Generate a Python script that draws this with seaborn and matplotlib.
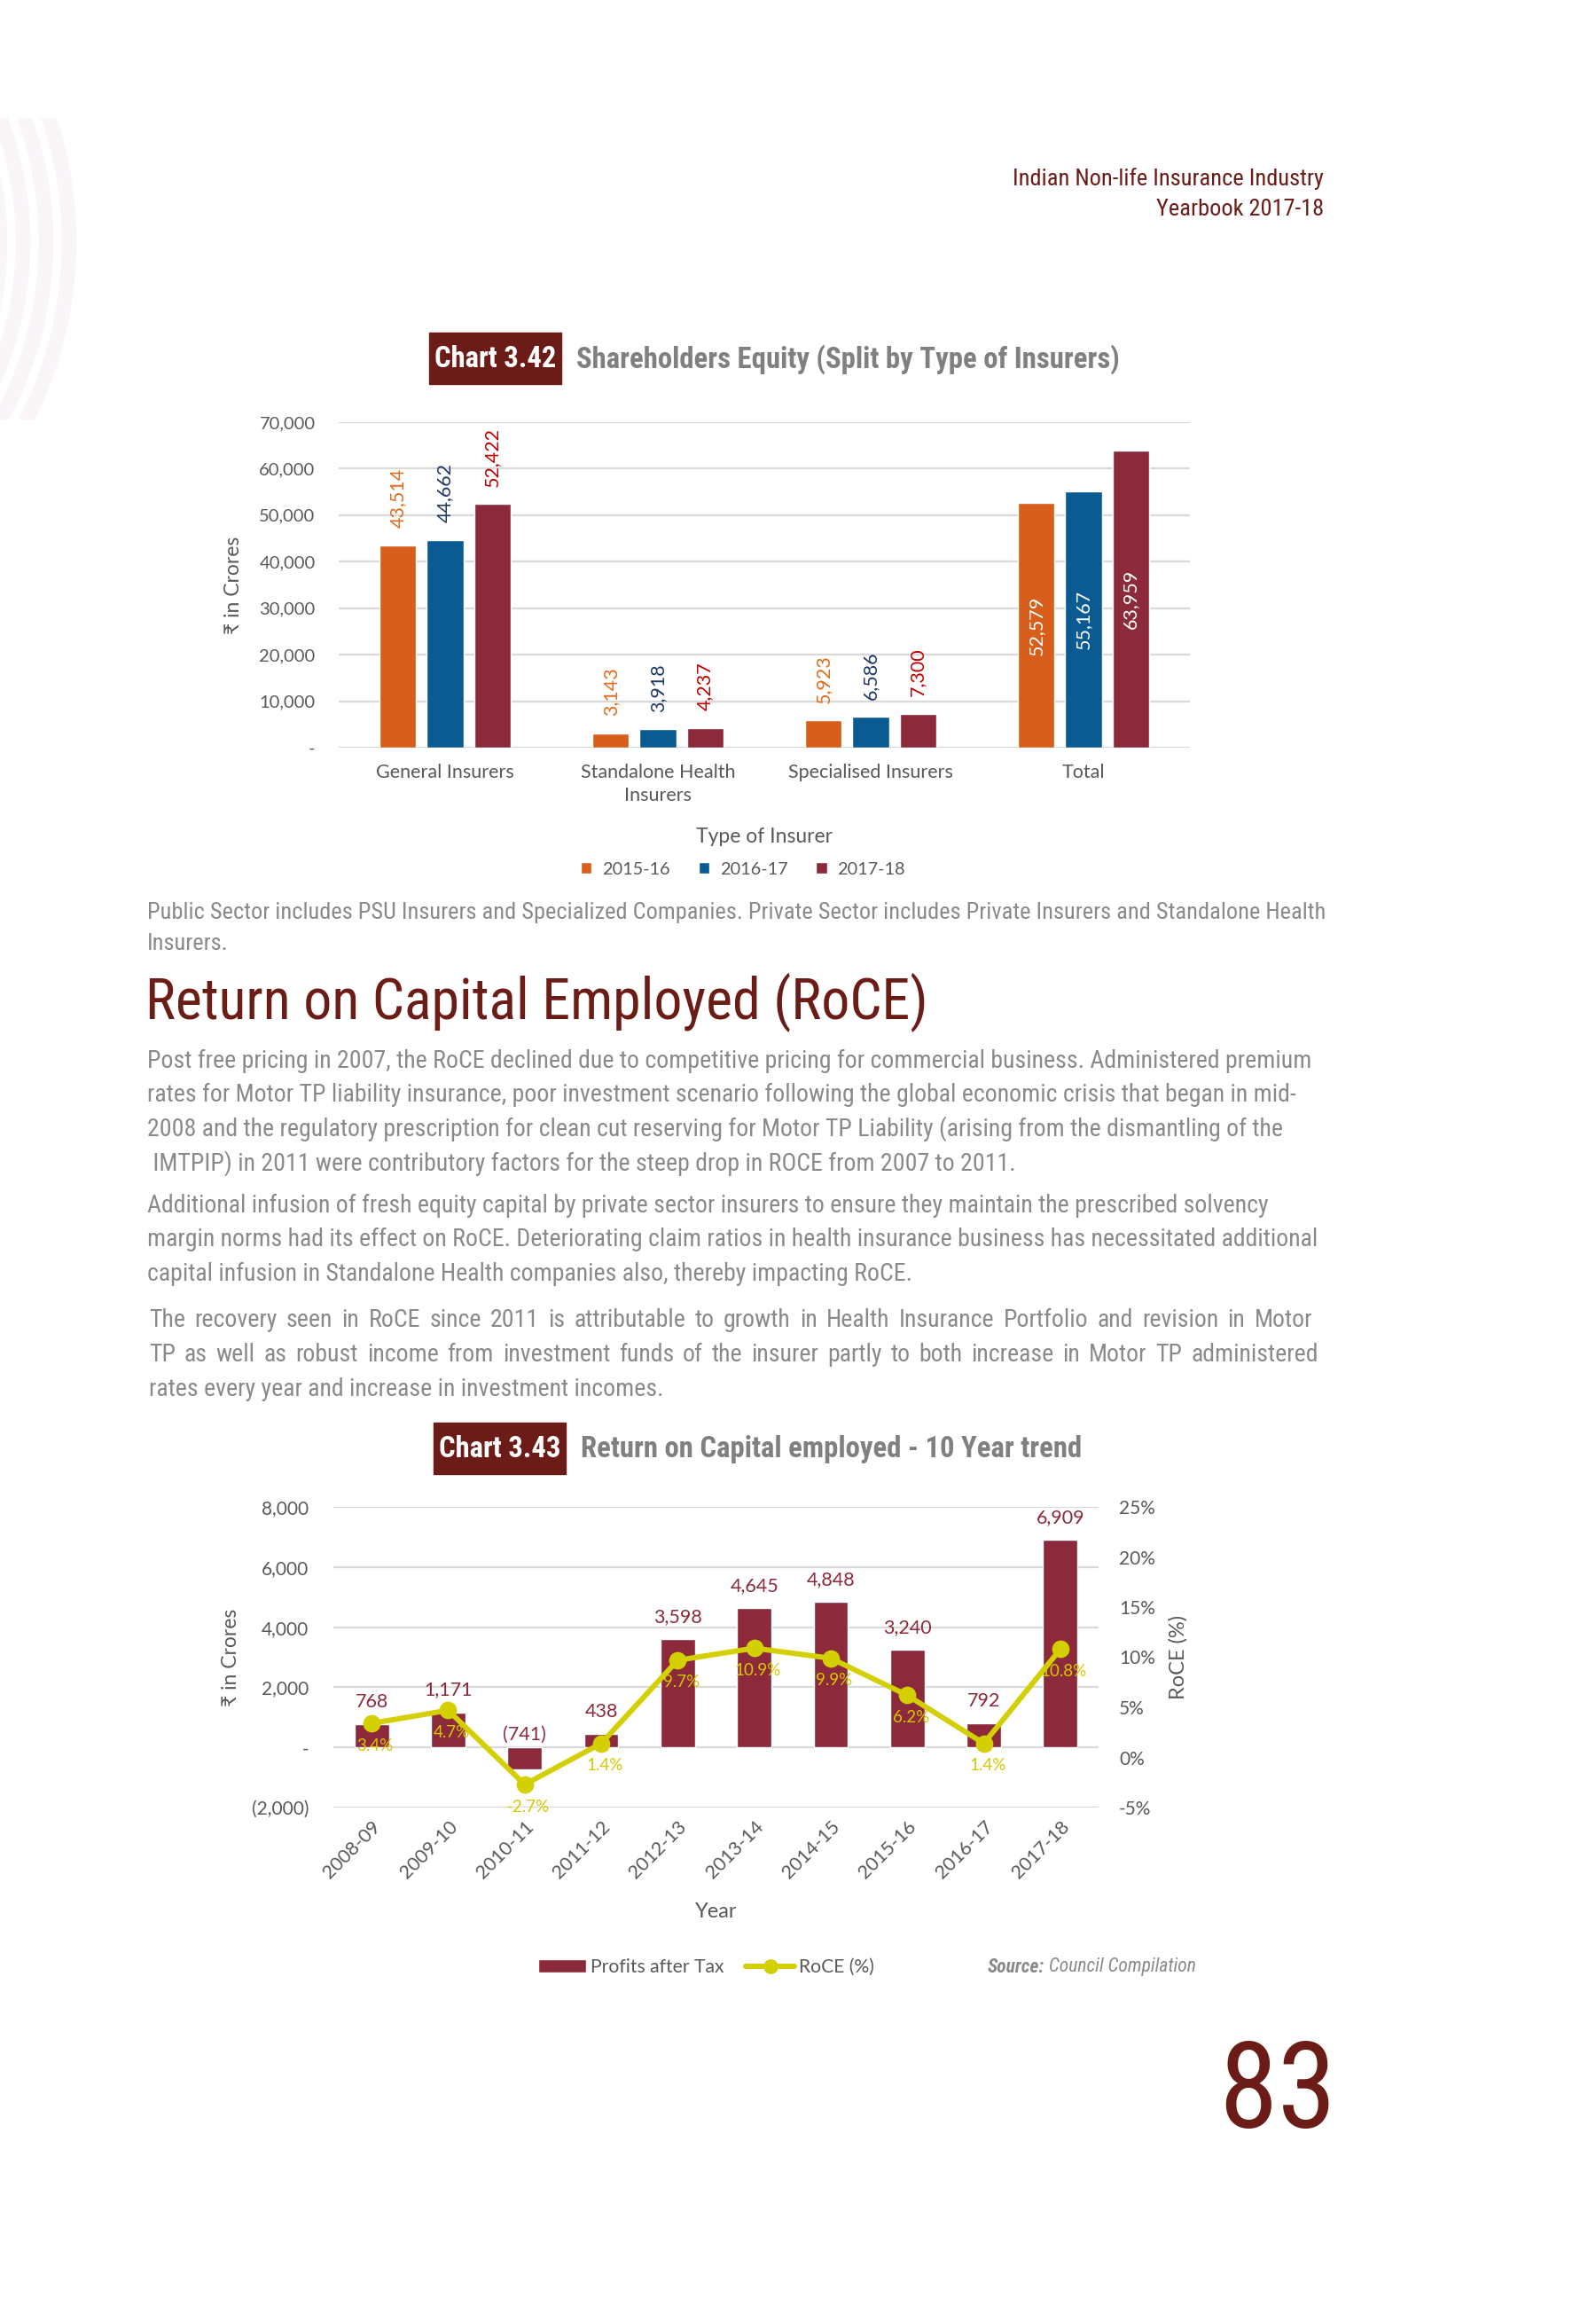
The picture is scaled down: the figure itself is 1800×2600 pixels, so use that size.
import matplotlib
matplotlib.use("Agg")
import matplotlib.pyplot as plt
from matplotlib import font_manager
from matplotlib.patches import Rectangle, Circle
from matplotlib.lines import Line2D
from matplotlib.ticker import FixedLocator, FuncFormatter
import pandas as pd
import seaborn as sns

# chart 3.42 - shareholders equity (Rs crore)
insurer_types = ["General Insurers", "Standalone Health\nInsurers", "Specialised Insurers", "Total"]
equity_years = ["2015-16", "2016-17", "2017-18"]
equity_2015_16 = [43514, 3143, 5923, 52579]
equity_2016_17 = [44662, 3918, 6586, 55167]
equity_2017_18 = [52422, 4237, 7300, 63959]
equity_ticks = [0, 10000, 20000, 30000, 40000, 50000, 60000, 70000]

# chart 3.43 - RoCE 10 year trend
roce_years = ["2008-09", "2009-10", "2010-11", "2011-12", "2012-13",
              "2013-14", "2014-15", "2015-16", "2016-17", "2017-18"]
profit_after_tax = [768, 1171, -741, 438, 3598, 4645, 4848, 3240, 792, 6909]
roce_pct = [3.4, 4.7, -2.7, 1.4, 9.7, 10.9, 9.9, 6.2, 1.4, 10.8]
profit_ticks = [-2000, 0, 2000, 4000, 6000, 8000]
roce_ticks = [-5, 0, 5, 10, 15, 20, 25]

header_lines = ["Indian Non-life Insurance Industry", "Yearbook 2017-18"]
note_lines = [
    "Public Sector includes PSU Insurers and Specialized Companies. Private Sector includes Private Insurers and Standalone Health",
    "Insurers.",
]
heading = "Return on Capital Employed (RoCE)"
para1 = [
    "Post free pricing in 2007, the RoCE declined due to competitive pricing for commercial business. Administered premium",
    "rates for Motor TP liability insurance, poor investment scenario following the global economic crisis that began in mid-",
    "2008 and the regulatory prescription for clean cut reserving for Motor TP Liability (arising from the dismantling of the",
    " IMTPIP) in 2011 were contributory factors for the steep drop in ROCE from 2007 to 2011.",
]
para2 = [
    "Additional infusion of fresh equity capital by private sector insurers to ensure they maintain the prescribed solvency",
    "margin norms had its effect on RoCE. Deteriorating claim ratios in health insurance business has necessitated additional",
    "capital infusion in Standalone Health companies also, thereby impacting RoCE.",
]
para3 = [
    "The recovery seen in RoCE since 2011 is attributable to growth in Health Insurance Portfolio and revision in Motor",
    "TP as well as robust income from investment funds of the insurer partly to both increase in Motor TP administered",
    "rates every year and increase in investment incomes.",
]

# fonts
names = {f.name for f in font_manager.fontManager.ttflist}
NARROW = next((n for n in ["Liberation Sans Narrow", "Roboto Condensed", "Open Sans Condensed"] if n in names),
              "Liberation Sans")
CHART = ["Lato", "DejaVu Sans"]

sns.set_theme(style="white")
plt.rcParams["font.family"] = CHART

# colours
DARK = "#6B1C16"
ORANGE = "#D75F1B"
BLUE = "#0A5B93"
MAROON = "#8C2A3B"
YELLOW = "#D3CF00"
GRID = "#D9D9D9"
TXT = "#595959"
BODY = "#8A8A8A"
TITLE_GREY = "#808080"
label_colors = ["#E36C1E", "#1F3864", "#C00000"]

fig = plt.figure(figsize=(18, 26), dpi=100)
page = fig.add_axes([0, 0, 1, 1])
page.set_xlim(0, 1800)
page.set_ylim(2600, 0)
page.axis("off")
renderer = fig.canvas.get_renderer()


def px_axes(left, top, right, bottom):
    return fig.add_axes([left / 1800, 1 - bottom / 2600, (right - left) / 1800, (bottom - top) / 2600])


def body_line(x, y, line, right=None, **kw):
    if right is None:
        page.text(x, y, line, va="center", **kw)
        return
    # justified line: spread words between x and right
    words = line.split(" ")
    arts = [page.text(0, y, w, va="center", **kw) for w in words]
    widths = [a.get_window_extent(renderer).width for a in arts]
    gap = (right - x - sum(widths)) / (len(words) - 1)
    pos = x
    for a, w in zip(arts, widths):
        a.set_x(pos)
        pos += w + gap


# faint arcs on the left edge
clip = Rectangle((0, 133), 150, 340, transform=page.transData)
for r in [440, 414, 388, 362]:
    c = Circle((-362, 273), r, fill=False, lw=12, ec="#FAF5F8")
    page.add_patch(c)
    c.set_clip_path(clip)

page.text(1493, 202, header_lines[0], ha="right", va="center", family=NARROW, size=19, color=DARK)
page.text(1493, 236, header_lines[1], ha="right", va="center", family=NARROW, size=19, color=DARK)


def chart_title(x0, y0, num, title):
    page.add_patch(Rectangle((x0, y0), 149, 58, color=DARK))
    page.text(x0 + 74.5, y0 + 30, num, ha="center", va="center", color="white",
              weight="bold", family=NARROW, size=23.5)
    page.text(x0 + 166, y0 + 30, title, ha="left", va="center", color=TITLE_GREY,
              weight="bold", family=NARROW, size=23.6)


chart_title(484, 375, "Chart 3.42", "Shareholders Equity (Split by Type of Insurers)")

# ---------------- chart 3.42 ----------------
df_eq = pd.DataFrame({
    "insurer": insurer_types * 3,
    "year": [y for y in equity_years for _ in insurer_types],
    "equity": equity_2015_16 + equity_2016_17 + equity_2017_18,
})

ax1 = px_axes(382, 476, 1342, 843)
sns.barplot(data=df_eq, x="insurer", y="equity", hue="year", hue_order=equity_years,
            palette=[ORANGE, BLUE, MAROON], width=0.666, gap=0.22, saturation=1,
            legend=False, ax=ax1)
ax1.set_xlim(-0.5, 3.5)
ax1.set_ylim(0, 70000)
ax1.yaxis.set_major_locator(FixedLocator(equity_ticks))
ax1.yaxis.set_major_formatter(FuncFormatter(lambda v, p: "-" if v == 0 else f"{v:,.0f}"))
ax1.grid(axis="y", color=GRID, lw=1.6)
ax1.set_axisbelow(True)
sns.despine(ax=ax1, left=True, bottom=True)
ax1.tick_params(length=0, colors=TXT)
ax1.tick_params(axis="y", pad=19, labelsize=14.5)
ax1.tick_params(axis="x", pad=13, labelsize=15.5)
for lbl in ax1.get_xticklabels():
    lbl.set_linespacing(1.35)

for hi, cont in enumerate(ax1.containers):
    for ci, bar in enumerate(cont):
        val = bar.get_height()
        cx = bar.get_x() + bar.get_width() / 2
        if insurer_types[ci] == "Total":
            ax1.text(cx, val / 2, f"{val:,.0f}", rotation=90, ha="center", va="center",
                     color="white", size=15.5)
        else:
            ax1.annotate(f"{val:,.0f}", xy=(cx, val), xytext=(0, 14), textcoords="offset points",
                         rotation=90, ha="center", va="bottom", color=label_colors[hi], size=15.5)

ax1.set_xlabel("Type of Insurer", size=16.5, color=TXT)
ax1.xaxis.set_label_coords(0.5, -0.245)
ax1.set_ylabel("₹ in Crores", size=16.5, color=TXT)
ax1.yaxis.set_label_coords(-0.112, 0.5)

fig.legend(handles=[Rectangle((0, 0), 1, 1, fc=c) for c in [ORANGE, BLUE, MAROON]],
           labels=equity_years, loc="center", bbox_to_anchor=(838 / 1800, 1 - 980 / 2600),
           ncol=3, frameon=False, fontsize=14.3, handlelength=0.62, handleheight=0.62,
           handletextpad=0.6, columnspacing=1.6, labelcolor=TXT)

# ---------------- body text ----------------
BODY_KW = dict(family=NARROW, size=20.1, color=BODY)
for i, line in enumerate(note_lines):
    page.text(166, 1029 + i * 35, line, family=NARROW, size=19, color=BODY, va="center")
page.text(164, 1130, heading, family=NARROW, size=46, color=DARK, va="center")
for i, line in enumerate(para1):
    body_line(166, 1196 + i * 38.5, line, **BODY_KW)
for i, line in enumerate(para2):
    body_line(166, 1359 + i * 38.5, line, **BODY_KW)
for i, line in enumerate(para3):
    right = [1480, 1487, None][i]
    body_line(168, 1489 + i * 38.5, line, right=right, **BODY_KW)

chart_title(489, 1604, "Chart 3.43", "Return on Capital employed - 10 Year trend")

# ---------------- chart 3.43 ----------------
ax2 = px_axes(376, 1699, 1239, 2038)
sns.barplot(x=roce_years, y=profit_after_tax, color=MAROON, saturation=1, width=0.45, ax=ax2)
ax3 = ax2.twinx()
sns.pointplot(x=roce_years, y=roce_pct, color=YELLOW, markers="o", markersize=11,
              linewidth=4.3, errorbar=None, ax=ax3)

ax2.set_xlim(-0.5, len(roce_years) - 0.5)
ax2.set_ylim(-2000, 8000)
ax2.yaxis.set_major_locator(FixedLocator(profit_ticks))
ax2.yaxis.set_major_formatter(FuncFormatter(
    lambda v, p: "-" if v == 0 else (f"({abs(v):,.0f})" if v < 0 else f"{v:,.0f}")))
ax3.set_ylim(-5, 25)
ax3.yaxis.set_major_locator(FixedLocator(roce_ticks))
ax3.yaxis.set_major_formatter(FuncFormatter(lambda v, p: f"{v:.0f}%"))
ax2.grid(axis="y", color=GRID, lw=1.6)
ax2.set_axisbelow(True)
ax3.grid(False)
sns.despine(ax=ax2, left=True, bottom=True)
sns.despine(ax=ax3, left=True, bottom=True, right=True)
ax2.tick_params(length=0, colors=TXT)
ax2.tick_params(axis="y", pad=20, labelsize=15)
ax2.tick_params(axis="x", pad=8, labelsize=15.5)
ax3.tick_params(length=0, labelsize=15, colors=TXT, pad=16.5)
plt.setp(ax2.get_xticklabels(), rotation=45, ha="right", rotation_mode="anchor")

for bar, val in zip(ax2.containers[0], profit_after_tax):
    cx = bar.get_x() + bar.get_width() / 2
    txt = f"({abs(val):,})" if val < 0 else f"{val:,}"
    ax2.annotate(txt, xy=(cx, max(val, 0)), xytext=(0, 18 if val >= 0 else 10),
                 textcoords="offset points", ha="center", va="center", color=MAROON, size=15.5)

line = ax3.lines[0]
for x, y, v in zip(line.get_xdata(), line.get_ydata(), roce_pct):
    ax3.annotate(f"{v}%", xy=(x, y), xytext=(3, -18), textcoords="offset points",
                 ha="center", va="center", color="#D6C800", size=13.5)

ax2.set_xlabel("Year", size=17, color=TXT)
ax2.xaxis.set_label_coords(0.5, -0.315)
ax2.set_ylabel("₹ in Crores", size=16.5, color=TXT)
ax2.yaxis.set_label_coords(-0.122, 0.5)
ax3.set_ylabel("RoCE (%)", size=17, color=TXT, rotation=90)
ax3.yaxis.set_label_coords(1.092, 0.5)

fig.legend(handles=[Rectangle((0, 0), 1, 1, fc=MAROON),
                    Line2D([], [], color=YELLOW, lw=4.3, marker="o", ms=11)],
           labels=["Profits after Tax", "RoCE (%)"], loc="center",
           bbox_to_anchor=(796 / 1800, 1 - 2218 / 2600), ncol=2, frameon=False, fontsize=15.2,
           handlelength=2.6, handleheight=0.7, handletextpad=0.2, columnspacing=1.2,
           labelcolor=TXT)

src = page.text(1114, 2218, "Source:", family=NARROW, style="italic", weight="bold",
                size=15.5, color=BODY, va="center")
page.annotate(" Council Compilation", xy=(1, 0.5), xycoords=src, family=NARROW, style="italic",
              size=15.5, color=BODY, va="center", ha="left")

page.text(1508, 2362, "83", ha="right", va="center", size=97, family=NARROW, color=DARK)

fig.savefig("out.png", dpi=100)
